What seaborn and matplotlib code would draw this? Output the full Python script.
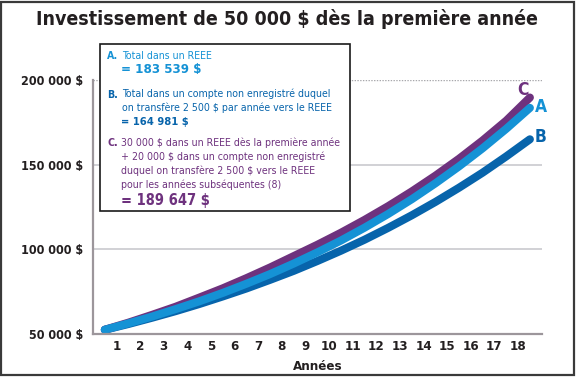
import matplotlib
matplotlib.use('Agg')
import matplotlib.pyplot as plt
import seaborn as sns
import pandas as pd
from matplotlib.patches import Rectangle

# données (valeur en fin de chaque année)
annees = [0.5, 1.5, 2.5, 3.5, 4.5, 5.5, 6.5, 7.5, 8.5, 9.5,
          10.5, 11.5, 12.5, 13.5, 14.5, 15.5, 16.5, 17.5, 18.5]
total_a = [52500, 56300, 60300, 64700, 69300, 74300, 79700, 85400, 91600, 98200,
           105200, 112800, 120900, 129600, 139000, 149000, 159700, 171200, 183539]
total_b = [52500, 55900, 59600, 63500, 67700, 72200, 76900, 82000, 87300, 93100,
           99200, 105700, 112700, 120100, 128000, 136400, 145300, 154900, 164981]
total_c = [52500, 56700, 61300, 66100, 71500, 77000, 83000, 89300, 96000, 102700,
           109800, 117400, 125500, 134200, 143500, 153500, 164300, 176000, 189647]
graduations_x = list(range(1, 20))
etiquettes_x = [str(i) for i in range(1, 19)] + ['']
graduations_y = [50000, 100000, 150000, 200000]
etiquettes_y = ['50 000 $', '100 000 $', '150 000 $', '200 000 $']

bleu_clair = '#1592D5'
bleu_fonce = '#0764AB'
violet = '#6E327E'
texte = '#231F20'
gris = '#9C969B'

df = pd.DataFrame({'annee': annees, 'A': total_a, 'B': total_b, 'C': total_c})

sns.set_theme(style='white')
plt.rcParams['font.family'] = ['DejaVu Sans']
plt.rcParams['font.stretch'] = 'condensed'

W, H = 577, 377
fig = plt.figure(figsize=(W / 100, H / 100), dpi=100)
ax = fig.add_axes([93 / W, 1 - 334 / H, (541.7 - 93) / W, (334 - 80) / H])

def fx(x):
    return x / W

def fy(y):
    return 1 - y / H

# grille
ax.axhline(100000, color='#CACACE', lw=1.2, zorder=0)
ax.axhline(150000, color='#CACACE', lw=1.2, zorder=0)
ax.axhline(200000, color='#A8A8AC', lw=1.0, ls=(0, (1, 1)), zorder=0)

lw = 5.8
for col, c in [('B', bleu_fonce), ('C', violet), ('A', bleu_clair)]:
    sns.lineplot(data=df, x='annee', y=col, ax=ax, color=c, lw=lw,
                 solid_capstyle='round', clip_on=False)

ax.set_xlim(0, 19)
ax.set_ylim(50000, 200000)
ax.set_xticks(graduations_x)
ax.set_xticklabels(etiquettes_x, fontsize=9.5, fontweight='bold', color=texte)
ax.set_yticks(graduations_y)
ax.set_yticklabels(etiquettes_y, fontsize=9, fontweight='bold', color=texte)
ax.tick_params(axis='x', direction='in', length=4, width=0.8, color='#B5B0B4', pad=4)
ax.tick_params(axis='y', length=0, pad=7)
ax.set_xlabel('Années', fontsize=9.5, fontweight='bold', color=texte, labelpad=5)
ax.set_ylabel('')
for s in ['top', 'right']:
    ax.spines[s].set_visible(False)
for s in ['left', 'bottom']:
    ax.spines[s].set_color(gris)
    ax.spines[s].set_linewidth(1.6)

# lettres en bout de courbe
ax.annotate('C', (annees[-1], total_c[-1]), xytext=(-7, 8), textcoords='offset pixels',
            ha='center', va='center', fontsize=12.5, fontweight='bold', color=violet)
ax.annotate('A', (annees[-1], total_a[-1]), xytext=(11, 1), textcoords='offset pixels',
            ha='center', va='center', fontsize=12.5, fontweight='bold', color=bleu_clair)
ax.annotate('B', (annees[-1], total_b[-1]), xytext=(11, 2), textcoords='offset pixels',
            ha='center', va='center', fontsize=12.5, fontweight='bold', color=bleu_fonce)

# titre
fig.text(fx(287), fy(19), 'Investissement de 50 000 $ dès la première année',
         ha='center', va='center', fontsize=14, fontweight='bold', color=texte)

# encadré de légende
fig.patches.append(Rectangle((fx(100), fy(211)), fx(350) - fx(100), fy(44) - fy(211),
                             transform=fig.transFigure, facecolor='white',
                             edgecolor='#1A1A1A', lw=1.2, zorder=5))
fs = 7.6
def ligne(x, y, s, c, size=fs, bold=False):
    fig.text(fx(x), fy(y), s, ha='left', va='center', fontsize=size, color=c,
             fontweight='bold' if bold else 'normal', zorder=6)

ligne(107, 56, 'A.', bleu_clair, bold=True)
ligne(122, 56, 'Total dans un REEE', bleu_clair)
ligne(121, 70, '= 183 539 $', bleu_clair, size=9.5, bold=True)

ligne(107, 95, 'B.', bleu_fonce, bold=True)
ligne(122, 94, 'Total dans un compte non enregistré duquel', bleu_fonce)
ligne(122, 108, 'on transfère 2 500 $ par année vers le REEE', bleu_fonce)
ligne(121, 122, '= 164 981 $', bleu_fonce, size=8, bold=True)

ligne(107, 143, 'C.', violet, bold=True)
ligne(121, 143, '30 000 $ dans un REEE dès la première année', violet)
ligne(121, 157, '+ 20 000 $ dans un compte non enregistré', violet)
ligne(121, 171, 'duquel on transfère 2 500 $ vers le REEE', violet)
ligne(121, 185, 'pour les années subséquentes (8)', violet)
ligne(121, 200, '= 189 647 $', violet, size=10.5, bold=True)

# cadre extérieur
fig.patches.append(Rectangle((0.002, 0.004), 0.992, 0.992, transform=fig.transFigure,
                             facecolor='none', edgecolor='#3A3A3A', lw=1.6, zorder=10))

fig.savefig('out.png', dpi=100)
